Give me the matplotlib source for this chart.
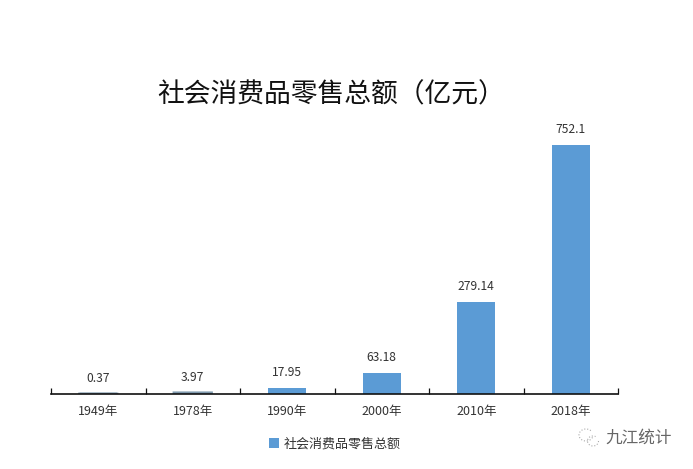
import matplotlib
matplotlib.use("Agg")
import matplotlib.pyplot as plt
from matplotlib.patches import Arc, Patch

plt.rcParams['font.family'] = ['Noto Sans CJK SC', 'DejaVu Sans']

years = ["1949年", "1978年", "1990年", "2000年", "2010年", "2018年"]
values = [0.37, 3.97, 17.95, 63.18, 279.14, 752.1]
value_labels = ["0.37", "3.97", "17.95", "63.18", "279.14", "752.1"]
series_name = "社会消费品零售总额"
title = "社会消费品零售总额（亿元）"
watermark = "九江统计"
bar_color = "#5B9BD5"

W, H = 693, 469
fig = plt.figure(figsize=(W / 100, H / 100), dpi=100, facecolor="white")
ax = fig.add_axes([51 / W, 1 - 394 / H, 567 / W, 275 / H])
xs = list(range(len(years)))
bars = ax.bar(xs, values, width=0.4, color=bar_color, zorder=2)
for b, v in zip(bars, values):
    if v < 5:
        b.set_edgecolor("#7F99AD")
        b.set_linewidth(1.8)
        b.set_snap(False)
ax.set_xlim(-0.5, 5.5)
ax.set_ylim(0, 830.6)
for s in ("top", "right", "left"):
    ax.spines[s].set_visible(False)
ax.spines["bottom"].set_linewidth(1.2)
ax.spines["bottom"].set_color("#111111")
ax.yaxis.set_visible(False)
ax.set_xticks([x - 0.5 for x in range(len(years) + 1)])
ax.set_xticklabels([])
ax.tick_params(axis="x", direction="in", length=4.5, width=0.9, color="#111111")
ax.set_xticks(xs, minor=True)
ax.set_xticklabels(years, minor=True, fontsize=9, color="#333333")
ax.tick_params(axis="x", which="minor", length=0, pad=8)

for x, v, lab in zip(xs, values, value_labels):
    ax.annotate(lab, (x, v), xytext=(0, 6.5), textcoords="offset points",
                ha="center", va="bottom", fontsize=8.7, color="#333333")

fig.text(331 / W, 1 - 95 / H, title, fontsize=19.3, ha="center", va="center", color="#111111")

legend_handle = Patch(facecolor=bar_color, label=series_name)
fig.legend(handles=[legend_handle], loc="center", ncol=1,
           bbox_to_anchor=(335 / W, 1 - 444 / H), frameon=False, fontsize=9.4,
           handlelength=0.75, handleheight=0.75, handletextpad=0.4, labelcolor="#333333")

fig.text(638.5 / W, 1 - 438 / H, watermark, fontsize=12, ha="center", va="center", color="#666666")
icon = fig.add_axes([0, 0, 1, 1], facecolor="none")
icon.set_xlim(0, W)
icon.set_ylim(H, 0)
icon.axis("off")
icon.add_patch(Arc((586, 435), 14, 12, theta1=20, theta2=330, color="#aaaaaa", lw=0.8, ls=":"))
icon.add_patch(Arc((593, 441), 11, 10, theta1=0, theta2=300, color="#aaaaaa", lw=0.8, ls=":"))

fig.savefig("out.png", dpi=100)
